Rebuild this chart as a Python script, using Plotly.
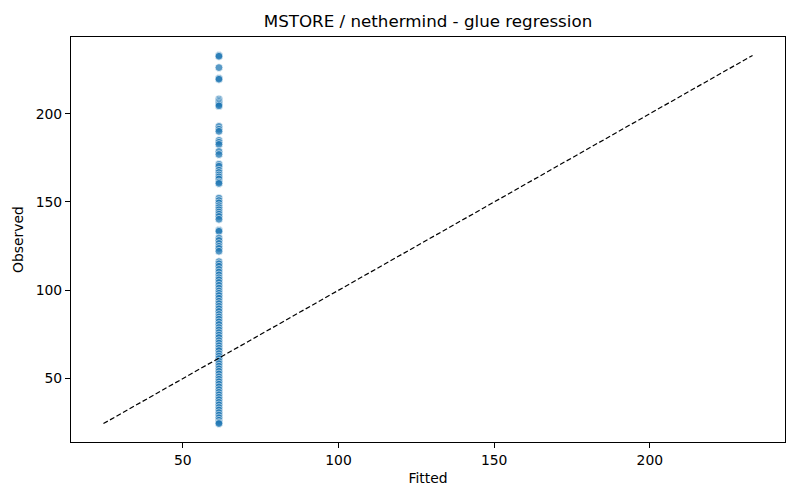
"""Observed vs fitted scatter for the MSTORE / nethermind glue regression."""
import plotly.graph_objects as go

TITLE = "MSTORE / nethermind - glue regression"

# every sample gets the same fitted value (constant glue model)
FITTED_VALUE = 61.6

observed = [
    233.0, 232.5, 226.1, 220.0, 219.5, 208.3, 207.5, 206.8, 206.0, 205.2,
    204.4, 192.8, 191.2, 190.0, 184.9, 183.8, 182.6, 178.6, 176.9, 171.4,
    170.3, 168.0, 166.7, 165.3, 164.2, 163.0, 161.3, 160.5, 152.2, 150.8,
    149.5, 147.9, 146.8, 145.6, 144.3, 143.1, 141.8, 140.2, 134.0, 133.4,
    129.6, 128.2, 126.5, 124.9, 123.7, 122.1, 116.2, 115.0, 113.6, 111.8,
    110.3, 108.7, 107.1, 105.9, 104.4, 102.8, 101.2, 99.6, 98.3, 97.0,
    95.5, 93.8, 92.4, 90.9, 89.5, 88.0, 86.3, 84.9, 83.6, 82.1,
    80.6, 78.9, 77.5, 76.0, 74.6, 73.2, 71.5, 70.1, 68.6, 67.2,
    65.8, 64.1, 62.7, 61.3, 59.8, 58.4, 57.0, 55.5, 54.1, 52.6,
    51.0, 49.6, 48.2, 46.8, 45.3, 43.7, 42.2, 40.8, 39.4, 38.0,
    36.5, 35.1, 33.6, 32.2, 30.7, 29.3, 27.8, 26.4, 25.1, 24.5,
]
fitted = [FITTED_VALUE] * len(observed)

x_ticks = [50, 100, 150, 200]
y_ticks = [50, 100, 150, 200]

FONT = "DejaVu Sans"
BLUE = "#1f77b4"

lo = min(observed)
hi = max(observed)
pad = 0.05 * (hi - lo)  # matplotlib-style 5% margins
rng = [lo - pad, hi + pad]

fig = go.Figure()
fig.add_trace(go.Scatter(
    x=fitted, y=observed, mode="markers",
    marker=dict(size=7.8, color=BLUE, opacity=0.75,
                line=dict(color="white", width=0.75)),
    showlegend=False,
))
fig.add_trace(go.Scatter(
    x=[lo, hi], y=[lo, hi], mode="lines",
    line=dict(color="black", width=1.2, dash="5px,2.5px"),
    showlegend=False,
))

axis_style = dict(
    showline=True, linecolor="black", linewidth=1.1, mirror=True,
    ticks="outside", ticklen=5, tickwidth=1.1, tickcolor="black",
    showgrid=False, zeroline=False,
    tickfont=dict(family=FONT, size=13.9, color="black"),
    range=rng,
)
fig.update_xaxes(**axis_style, tickvals=x_ticks,
                 title=dict(text="Fitted", standoff=6,
                            font=dict(family=FONT, size=13.9, color="black")))
fig.update_yaxes(**axis_style, tickvals=y_ticks,
                 title=dict(text="Observed", standoff=8,
                            font=dict(family=FONT, size=13.9, color="black")))

fig.update_layout(
    width=800, height=500,
    plot_bgcolor="white", paper_bgcolor="white",
    margin=dict(l=71, r=15, t=37, b=58),
    title=dict(text=TITLE, x=0.535, xanchor="center", y=0.958,
               yanchor="middle",
               font=dict(family=FONT, size=16.7, color="black")),
    font=dict(family=FONT, color="black"),
)

# the default page adds an 8px body margin; drop it so the figure fills the window
fig.write_html("out.html", config={"displayModeBar": False},
               post_script="document.body.style.margin='0';")
